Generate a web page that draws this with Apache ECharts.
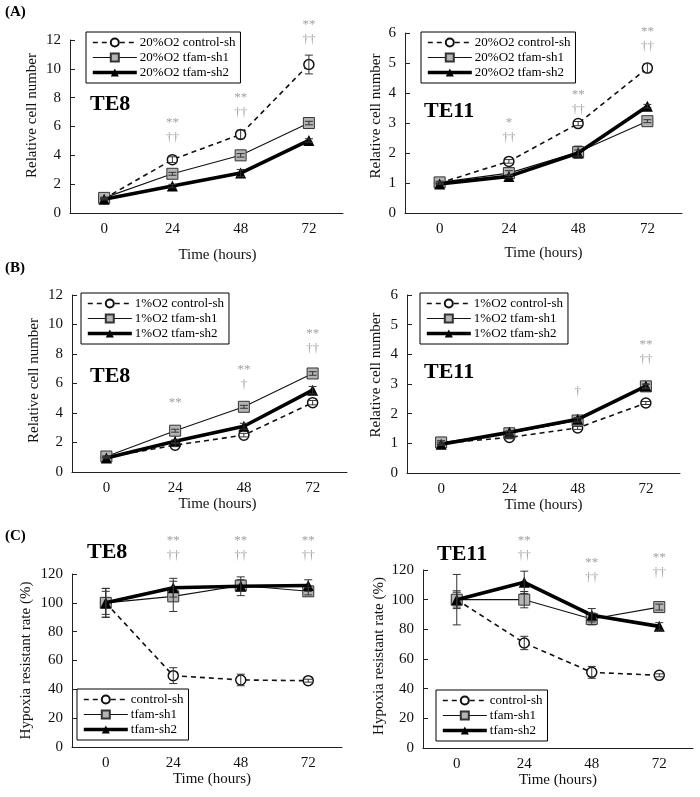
<!DOCTYPE html>
<html>
<head>
<meta charset="utf-8">
<script src="https://cdn.jsdelivr.net/npm/echarts@6/dist/echarts.min.js"></script>
<style>html,body{margin:0;padding:0;background:#fff}#c{width:700px;height:797px}</style>
</head>
<body>
<div id="c"></div>
<script>
// ---------- data ----------
const categories = ['0', '24', '48', '72'];
const names20 = ['20%O2 control-sh', '20%O2 tfam-sh1', '20%O2 tfam-sh2'];
const names1 = ['1%O2 control-sh', '1%O2 tfam-sh1', '1%O2 tfam-sh2'];
const namesC = ['control-sh', 'tfam-sh1', 'tfam-sh2'];

// (A) TE8, 20% O2
const a8Ctrl = [1.0, 3.7, 5.45, 10.3];
const a8CtrlErr = [0.05, 0.2, 0.3, 0.65];
const a8Sh1 = [1.05, 2.72, 4.0, 6.24];
const a8Sh1Err = [0.05, 0.1, 0.12, 0.12];
const a8Sh2 = [0.95, 1.87, 2.77, 5.03];
const a8Sh2Err = [0.05, 0.12, 0.25, 0.12];
const a8Sig = ['', '**\n††', '**\n††', '**\n††'];
const a8SigY = [null, 5.75, 7.5, 12.55];

// (A) TE11, 20% O2
const a11Ctrl = [1.0, 1.72, 2.98, 4.83];
const a11CtrlErr = [0.03, 0.06, 0.07, 0.15];
const a11Sh1 = [1.02, 1.33, 2.03, 3.06];
const a11Sh1Err = [0.04, 0.08, 0.2, 0.05];
const a11Sh2 = [0.97, 1.22, 2.0, 3.56];
const a11Sh2Err = [0.03, 0.05, 0.1, 0.06];
const a11Sig = ['', '*\n††', '**\n††', '**\n††'];
const a11SigY = [null, 2.77, 3.7, 5.8];

// (B) TE8, 1% O2
const b8Ctrl = [1.0, 1.82, 2.5, 4.7];
const b8CtrlErr = [0.05, 0.1, 0.12, 0.15];
const b8Sh1 = [1.05, 2.8, 4.42, 6.68];
const b8Sh1Err = [0.05, 0.1, 0.1, 0.12];
const b8Sh2 = [0.95, 2.08, 3.1, 5.55];
const b8Sh2Err = [0.05, 0.1, 0.2, 0.25];
const b8Sig = ['', '**', '**\n†', '**\n††'];
const b8SigY = [null, 4.68, 6.44, 8.88];

// (B) TE11, 1% O2
const b11Ctrl = [1.0, 1.2, 1.52, 2.36];
const b11CtrlErr = [0.04, 0.04, 0.05, 0.05];
const b11Sh1 = [1.03, 1.34, 1.77, 2.92];
const b11Sh1Err = [0.06, 0.05, 0.06, 0.08];
const b11Sh2 = [0.97, 1.37, 1.81, 2.93];
const b11Sh2Err = [0.04, 0.05, 0.06, 0.06];
const b11Sig = ['', '', '†', '**\n††'];
const b11SigY = [null, null, 2.73, 4.08];

// (C) TE8 hypoxia resistant rate
const c8Ctrl = [100, 49.5, 46.5, 46];
const c8CtrlErr = [10, 5.5, 4, 1];
const c8Sh1 = [100, 104.5, 112, 108];
const c8Sh1Err = [8, 10.5, 4, 2.5];
const c8Sh2 = [100, 110.5, 111.5, 112];
const c8Sh2Err = [10, 6.5, 6.5, 4];
const c8Sig = ['', '**\n††', '**\n††', '**\n††'];
const c8SigY = [null, 138, 138, 138];

// (C) TE11 hypoxia resistant rate
const c11Ctrl = [100, 70.8, 51, 49];
const c11CtrlErr = [17, 4.5, 4, 1];
const c11Sh1 = [100, 100, 87, 95];
const c11Sh1Err = [6, 5.5, 4, 2];
const c11Sh2 = [100, 111.7, 89.5, 82];
const c11Sh2Err = [5, 7.5, 4.5, 2.5];
const c11Sig = ['', '**\n††', '**\n††', '**\n††'];
const c11SigY = [null, 135, 120, 123];

// ---------- layout ----------
const FONT = 'Liberation Serif';
const panels = [
  { grid: {left: 70, top: 40, width: 273, height: 173}, yMax: 12, yInt: 2, yName: 'Relative cell number',
    names: names20, vals: [a8Ctrl, a8Sh1, a8Sh2], errs: [a8CtrlErr, a8Sh1Err, a8Sh2Err], sig: a8Sig, sigY: a8SigY,
    yGap: 30, yPad: [0, 0, 0, 22], xGap: 35, xPad: [0, 0, 0, 22],
    legend: {left: 86, top: 32}, cell: 'TE8', cellPos: [90, 93] },
  { grid: {left: 405, top: 33, width: 277, height: 180}, yMax: 6, yInt: 1, yName: 'Relative cell number',
    names: names20, vals: [a11Ctrl, a11Sh1, a11Sh2], errs: [a11CtrlErr, a11Sh1Err, a11Sh2Err], sig: a11Sig, sigY: a11SigY,
    yGap: 21, yPad: [0, 0, 0, 14], xGap: 33, xPad: 0,
    legend: {left: 421, top: 32}, cell: 'TE11', cellPos: [424, 100] },
  { grid: {left: 72, top: 295, width: 275, height: 177}, yMax: 12, yInt: 2, yName: 'Relative cell number',
    names: names1, vals: [b8Ctrl, b8Sh1, b8Sh2], errs: [b8CtrlErr, b8Sh1Err, b8Sh2Err], sig: b8Sig, sigY: b8SigY,
    yGap: 30, yPad: [0, 0, 0, 6], xGap: 19, xPad: [0, 0, 0, 16],
    legend: {left: 81, top: 293}, cell: 'TE8', cellPos: [90, 365] },
  { grid: {left: 407, top: 295, width: 273, height: 178}, yMax: 6, yInt: 1, yName: 'Relative cell number',
    names: names1, vals: [b11Ctrl, b11Sh1, b11Sh2], errs: [b11CtrlErr, b11Sh1Err, b11Sh2Err], sig: b11Sig, sigY: b11SigY,
    yGap: 23, yPad: [0, 0, 0, 18], xGap: 19, xPad: 0,
    legend: {left: 420, top: 293}, cell: 'TE11', cellPos: [424, 361] },
  { grid: {left: 72, top: 574, width: 270, height: 173}, yMax: 120, yInt: 20, yName: 'Hypoxia resistant rate (%)',
    names: namesC, vals: [c8Ctrl, c8Sh1, c8Sh2], errs: [c8CtrlErr, c8Sh1Err, c8Sh2Err], sig: c8Sig, sigY: c8SigY,
    yGap: 38, yPad: 0, xGap: 22, xPad: [0, 0, 0, 10],
    legend: {left: 77, top: 689}, cell: 'TE8', cellPos: [87, 541] },
  { grid: {left: 423, top: 570, width: 270, height: 178}, yMax: 120, yInt: 20, yName: 'Hypoxia resistant rate (%)',
    names: namesC, vals: [c11Ctrl, c11Sh1, c11Sh2], errs: [c11CtrlErr, c11Sh1Err, c11Sh2Err], sig: c11Sig, sigY: c11SigY,
    yGap: 36, yPad: [0, 0, 0, 6], xGap: 22, xPad: 0,
    legend: {left: 436, top: 690}, cell: 'TE11', cellPos: [437, 543] }
];

const seriesStyles = [
  { symbol: 'circle', symbolSize: 10, lineStyle: {type: [5, 4], width: 1.6, color: '#111'},
    itemStyle: {color: '#fff', borderColor: '#111', borderWidth: 1.5} },
  { symbol: 'rect', symbolSize: 11, lineStyle: {type: 'solid', width: 1.1, color: '#111'},
    itemStyle: {color: '#b4b4b4', borderColor: '#333', borderWidth: 1} },
  { symbol: 'triangle', symbolSize: 11, lineStyle: {type: 'solid', width: 3.6, color: '#000'},
    itemStyle: {color: '#000', borderColor: '#000', borderWidth: 0} }
];

function renderErr(params, api) {
  const x = api.value(0);
  const p1 = api.coord([x, api.value(1)]);
  const p2 = api.coord([x, api.value(2)]);
  const w = 4;
  const st = {stroke: '#333', lineWidth: 1};
  return {
    type: 'group',
    children: [
      {type: 'line', shape: {x1: p1[0], y1: p1[1], x2: p2[0], y2: p2[1]}, style: st},
      {type: 'line', shape: {x1: p1[0] - w, y1: p1[1], x2: p1[0] + w, y2: p1[1]}, style: st},
      {type: 'line', shape: {x1: p2[0] - w, y1: p2[1], x2: p2[0] + w, y2: p2[1]}, style: st}
    ]
  };
}

const option = {
  animation: false,
  backgroundColor: '#fff',
  grid: [], xAxis: [], yAxis: [], series: [], legend: [],
  graphic: [
    {type: 'text', left: 5, top: 5, style: {text: '(A)', font: 'bold 15px ' + FONT, fill: '#000'}},
    {type: 'text', left: 5, top: 261, style: {text: '(B)', font: 'bold 15px ' + FONT, fill: '#000'}},
    {type: 'text', left: 5, top: 529, style: {text: '(C)', font: 'bold 15px ' + FONT, fill: '#000'}}
  ]
};

panels.forEach((p, i) => {
  option.grid.push(Object.assign({containLabel: false}, p.grid));
  option.xAxis.push({
    gridIndex: i, type: 'category', data: categories, boundaryGap: true,
    axisLine: {show: true, lineStyle: {color: '#222', width: 1}},
    axisTick: {show: false},
    axisLabel: {fontFamily: FONT, fontSize: 15, color: '#111', margin: 9},
    name: 'Time (hours)', nameLocation: 'middle', nameGap: p.xGap,
    nameTextStyle: {fontFamily: FONT, fontSize: 15, color: '#111', padding: p.xPad}
  });
  option.yAxis.push({
    gridIndex: i, type: 'value', min: 0, max: p.yMax, interval: p.yInt,
    axisLine: {show: true, lineStyle: {color: '#222', width: 1}},
    axisTick: {show: true, inside: true, length: 5, lineStyle: {color: '#222'}},
    splitLine: {show: false},
    axisLabel: {fontFamily: FONT, fontSize: 15, color: '#111', margin: 9},
    name: p.yName, nameLocation: 'middle', nameGap: p.yGap, nameRotate: 90,
    nameTextStyle: {fontFamily: FONT, fontSize: 15, color: '#111', padding: p.yPad}
  });
  p.names.forEach((nm, k) => {
    const s = seriesStyles[k];
    option.series.push({
      type: 'line', name: nm, xAxisIndex: i, yAxisIndex: i, data: p.vals[k],
      symbol: s.symbol, symbolSize: s.symbolSize, showAllSymbol: true,
      lineStyle: s.lineStyle, itemStyle: s.itemStyle, z: 3 + k, clip: false
    });
  });
  p.names.forEach((nm, k) => {
    option.series.push({
      type: 'custom', xAxisIndex: i, yAxisIndex: i, renderItem: renderErr, z: 10, clip: false,
      data: p.vals[k].map((v, j) => [j, v - p.errs[k][j], v + p.errs[k][j]]),
      silent: true
    });
  });
  option.series.push({
    type: 'scatter', xAxisIndex: i, yAxisIndex: i, symbolSize: 1, clip: false, silent: true,
    itemStyle: {color: 'rgba(0,0,0,0)'},
    data: p.sig.map((t, j) => t ? {value: [j, p.sigY[j]], label: {formatter: t}} : null).filter(d => d),
    label: {show: true, position: 'inside', fontFamily: FONT, fontSize: 13, lineHeight: 15, color: '#8a8a8a'}
  });
  option.legend.push({
    data: p.names.map((nm, k) => ({
      name: nm,
      lineStyle: Object.assign({}, seriesStyles[k].lineStyle)
    })),
    left: p.legend.left, top: p.legend.top, orient: 'vertical',
    borderColor: '#000', borderWidth: 1, borderRadius: 0, backgroundColor: '#fff',
    padding: [4, 5, 4, 5], itemGap: 2, itemWidth: 44, itemHeight: 10,
    textStyle: {fontFamily: FONT, fontSize: 13, color: '#000', padding: [0, 0, 0, -2]},
    selectedMode: false, z: 20
  });
  option.graphic.push({type: 'text', left: p.cellPos[0], top: p.cellPos[1],
    style: {text: p.cell, font: 'bold 22px ' + FONT, fill: '#000'}});
});

const chart = echarts.init(document.getElementById('c'), null, {renderer: 'canvas'});
chart.setOption(option);
</script>
</body>
</html>
